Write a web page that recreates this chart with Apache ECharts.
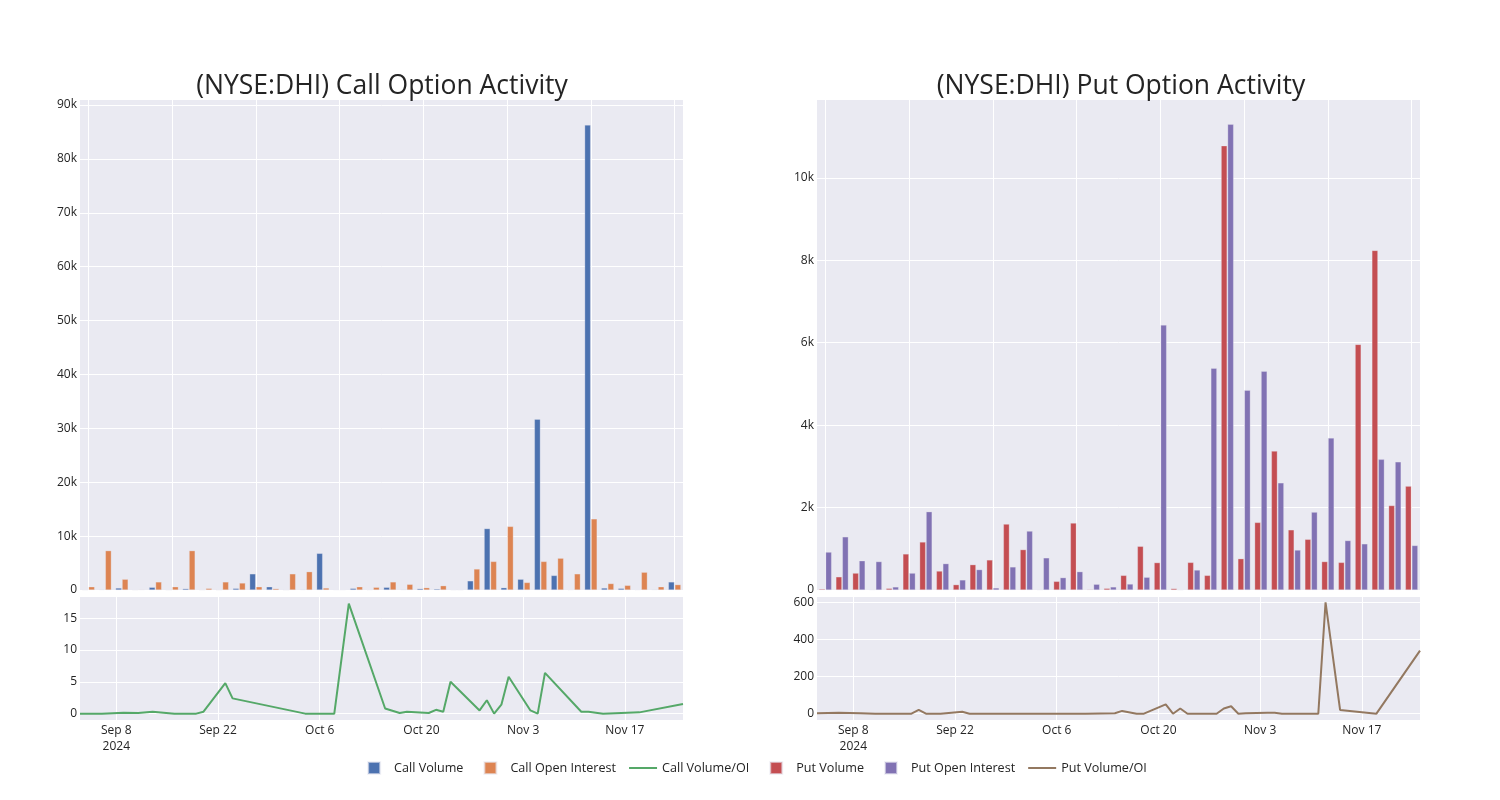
<!DOCTYPE html>
<html>
<head>
<meta charset="utf-8">
<script src="https://cdn.jsdelivr.net/npm/echarts@6/dist/echarts.min.js"></script>
<style>
html,body{margin:0;padding:0;background:#fff;}
#c{width:1500px;height:800px;}
</style>
</head>
<body>
<div id="c"></div>
<script>
const dates = ['2024-09-03','2024-09-06','2024-09-09','2024-09-11','2024-09-13','2024-09-16','2024-09-17','2024-09-18','2024-09-19','2024-09-20','2024-09-23','2024-09-24','2024-10-04','2024-10-08','2024-10-10','2024-10-14','2024-10-15','2024-10-17','2024-10-18','2024-10-21','2024-10-22','2024-10-23','2024-10-24','2024-10-28','2024-10-29','2024-10-30','2024-10-31','2024-11-01','2024-11-04','2024-11-05','2024-11-06','2024-11-11','2024-11-12','2024-11-14','2024-11-19','2024-11-25'];
const callVolume = [20,100,370,0,500,0,250,0,0,300,3000,600,0,100,6800,50,300,50,500,100,250,200,5,1700,11400,430,2000,31700,2700,50,86300,370,300,50,100,1500];
const callOI = [600,7300,2000,100,1500,600,7300,300,1500,1300,600,250,3000,3400,370,50,600,500,1500,1050,430,800,1,3900,5300,11800,1400,5300,5900,3000,13200,1200,860,3300,600,1000];
const callRatio = [0,0,0.15,0.1,0.3,0,0,0,0,0.3,4.8,2.4,0,0,17.3,4.1,0.8,0.1,0.3,0.1,0.6,0.3,5.0,0.5,2.1,0,1.4,5.8,0.5,0,6.4,0.3,0.3,0,0.2,1.5];
const putVolume = [25,320,410,5,40,875,1165,460,130,615,730,1600,980,5,210,1625,15,40,355,1060,665,35,670,355,10780,760,1640,3370,1460,1230,690,670,5960,8240,2050,2520];
const putOI = [920,1290,710,690,75,410,1900,640,245,495,50,560,1430,780,300,445,140,75,145,310,6430,0,485,5380,11300,4850,5310,2600,970,1890,3690,1200,1120,3170,3110,1080];
const putRatio = [3,5,2,0,0,0,20,0,0,0,10,0,0,0,0,2,15,0,0,50,0,28,0,0,28,40,0,3,5,5,0,0,600,20,0,340];
const dateTicks = ['2024-09-08','2024-09-22','2024-10-06','2024-10-20','2024-11-03','2024-11-17'];
const callTicks = [0,10000,20000,30000,40000,50000,60000,70000,80000,90000];
const putTicks = [0,2000,4000,6000,8000,10000];
const callRatioTicks = [0,5,10,15];
const putRatioTicks = [0,200,400,600];

const FONT = 'Open Sans';
const TXT = '#242424';
const BG = '#EAEAF2';
const C = {cv:'#4C72B0', coi:'#DD8452', cr:'#55A868', pv:'#C44E52', poi:'#8172B3', pr:'#937860'};
const MON = ['Jan','Feb','Mar','Apr','May','Jun','Jul','Aug','Sep','Oct','Nov','Dec'];
const ts = s => Date.parse(s + 'T00:00:00Z');
const tickTs = dateTicks.map(ts);
const xmin = ts(dates[0]), xmax = ts(dates[dates.length-1]);

function kfmt(v){ return v === 0 ? '0' : (v/1000) + 'k'; }
function dfmt(v){
  const d = new Date(v);
  let s = MON[d.getUTCMonth()] + ' ' + d.getUTCDate();
  if (v === tickTs[0]) s += '\n' + d.getUTCFullYear();
  return s;
}

const grids = [
  {left:80, width:603, top:100, height:490},
  {left:817, width:603, top:100, height:490},
  {left:80, width:603, top:597, height:123},
  {left:817, width:603, top:597, height:123}
];

const lbl = {color:TXT, fontFamily:FONT, fontSize:12};
function catAxis(gi){
  return {type:'category', gridIndex:gi, data:dates,
    axisLabel:{show:false}, axisTick:{show:false, interval:4, alignWithLabel:true},
    axisLine:{show:false},
    splitLine:{show:true, interval:4, alignWithLabel:true, lineStyle:{color:'#fff', width:1}}};
}
function timeAxis(gi){
  return {type:'value', gridIndex:gi, min:xmin, max:xmax,
    axisLine:{show:false},
    axisTick:{show:false, customValues:tickTs},
    axisLabel:Object.assign({customValues:tickTs, formatter:dfmt, margin:3, lineHeight:16}, lbl),
    splitLine:{show:true, lineStyle:{color:'#fff', width:1}}};
}
function valAxis(gi, min, max, ticks, fmt){
  return {type:'value', gridIndex:gi, min:min, max:max,
    axisLine:{show:false},
    axisTick:{show:false, customValues:ticks},
    axisLabel:Object.assign({customValues:ticks, formatter:fmt, margin:3}, lbl),
    splitLine:{show:true, lineStyle:{color:'#fff', width:1}}};
}

const barStyle = col => ({color:col, borderColor:'rgba(234,234,242,0.6)', borderWidth:0.5});
const SQ = 'path://M0,0L0,0M14,0L26,0L26,12L14,12ZM35,12L35,12';
const LN = 'path://M0,0L0,0M7,5L35,5L35,7L7,7ZM35,12L35,12';

const option = {
  backgroundColor:'#fff',
  animation:false,
  title:[
    {text:'(NYSE:DHI) Call Option Activity', left:377, top:68, textAlign:'center',
     textStyle:{fontFamily:FONT, fontSize:26.5, fontWeight:'normal', color:TXT}},
    {text:'(NYSE:DHI) Put Option Activity', left:1116, top:68, textAlign:'center',
     textStyle:{fontFamily:FONT, fontSize:26.5, fontWeight:'normal', color:TXT}}
  ],
  grid: grids.map(g => Object.assign({backgroundColor:BG, show:true, borderWidth:0}, g)),
  xAxis:[catAxis(0), catAxis(1), timeAxis(2), timeAxis(3)],
  yAxis:[
    valAxis(0, 0, 90930, callTicks, kfmt),
    valAxis(1, 0, 11890, putTicks, kfmt),
    valAxis(2, -1.0, 18.33, callRatioTicks, v => String(v)),
    valAxis(3, -34, 629, putRatioTicks, v => String(v))
  ],
  legend:{
    bottom:20, left:'center', itemWidth:35, itemHeight:12, itemGap:6,
    textStyle:{fontFamily:FONT, fontSize:12.6, color:TXT},
    data:[
      {name:'Call Volume', icon:SQ},
      {name:'Call Open Interest', icon:SQ},
      {name:'Call Volume/OI', icon:LN},
      {name:'Put Volume', icon:SQ},
      {name:'Put Open Interest', icon:SQ},
      {name:'Put Volume/OI', icon:LN}
    ]
  },
  series:[
    {name:'Call Volume', type:'bar', xAxisIndex:0, yAxisIndex:0, data:callVolume, barWidth:6, barGap:'8%', itemStyle:barStyle(C.cv)},
    {name:'Call Open Interest', type:'bar', xAxisIndex:0, yAxisIndex:0, data:callOI, barWidth:6, barGap:'8%', itemStyle:barStyle(C.coi)},
    {name:'Call Volume/OI', type:'line', xAxisIndex:2, yAxisIndex:2, symbol:'none',
     data:dates.map((d,i)=>[ts(d), callRatio[i]]), lineStyle:{color:C.cr, width:2}, itemStyle:{color:C.cr}},
    {name:'Put Volume', type:'bar', xAxisIndex:1, yAxisIndex:1, data:putVolume, barWidth:6, barGap:'8%', itemStyle:barStyle(C.pv)},
    {name:'Put Open Interest', type:'bar', xAxisIndex:1, yAxisIndex:1, data:putOI, barWidth:6, barGap:'8%', itemStyle:barStyle(C.poi)},
    {name:'Put Volume/OI', type:'line', xAxisIndex:3, yAxisIndex:3, symbol:'none',
     data:dates.map((d,i)=>[ts(d), putRatio[i]]), lineStyle:{color:C.pr, width:2}, itemStyle:{color:C.pr}}
  ]
};
const chart = echarts.init(document.getElementById('c'), null, {renderer:'canvas'});
chart.setOption(option);
</script>
</body>
</html>
